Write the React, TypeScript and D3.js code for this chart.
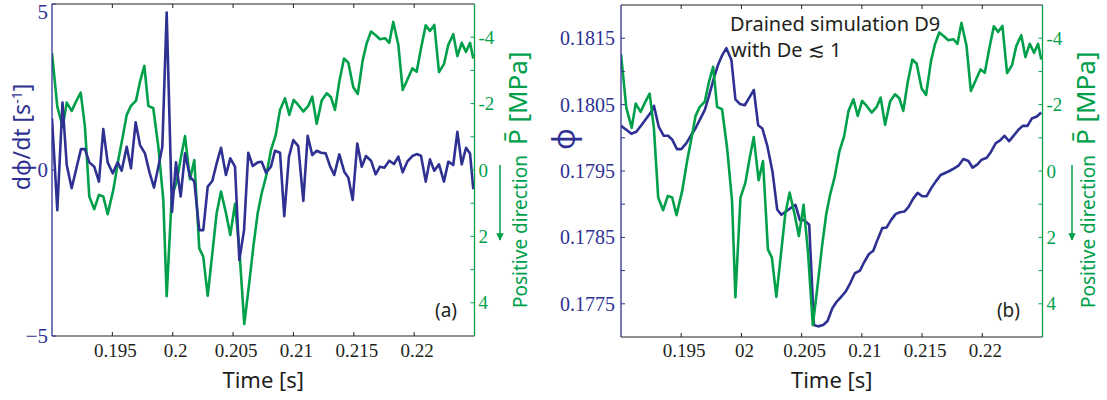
import React from "react";
import * as d3 from "d3";

// ---------- data ----------
const timeP = [0.19, 0.19044, 0.19089, 0.19122, 0.19163, 0.19199, 0.19238, 0.19273, 0.19309, 0.1935, 0.19389, 0.19425, 0.19461, 0.19508, 0.19549, 0.19586, 0.19619, 0.19654, 0.19696, 0.19729, 0.19765, 0.19798, 0.19839, 0.19881, 0.19922, 0.1995, 0.19992, 0.20033, 0.20069, 0.20102, 0.20143, 0.20179, 0.2022, 0.20253, 0.2029, 0.20328, 0.20364, 0.204, 0.20439, 0.20477, 0.20516, 0.20552, 0.20593, 0.20632, 0.20668, 0.20704, 0.20737, 0.20773, 0.20814, 0.20853, 0.20889, 0.2093, 0.20966, 0.21002, 0.2104, 0.21082, 0.21123, 0.21156, 0.21193, 0.21234, 0.21276, 0.21311, 0.21344, 0.2138, 0.21419, 0.21455, 0.21496, 0.21533, 0.21574, 0.21607, 0.21643, 0.21684, 0.21717, 0.21759, 0.21794, 0.21827, 0.21869, 0.21905, 0.21943, 0.21985, 0.22021, 0.22057, 0.22096, 0.22131, 0.22167, 0.22206, 0.22247, 0.22283, 0.22324, 0.22358, 0.22394, 0.2243, 0.22463, 0.2249];
const pressure = [-3.52, -1.91, -1.30, -2.03, -1.78, -2.06, -2.33, -1.30, 0.80, 1.18, 0.75, 0.80, 1.33, 0.60, -0.30, -1.00, -1.66, -1.93, -2.09, -2.66, -3.14, -1.93, -1.86, -0.70, 0.90, 3.80, 0.80, 0.35, -0.40, -1.02, 0.28, -0.30, 2.36, 2.61, 3.79, 2.51, 1.30, 0.65, 1.26, 1.96, 1.02, 2.41, 4.64, 3.46, 2.31, 1.30, 0.70, 0.20, -0.60, -1.05, -1.81, -2.16, -1.66, -2.11, -1.96, -1.76, -1.93, -2.21, -1.39, -2.09, -2.31, -2.19, -1.81, -2.66, -3.36, -3.23, -2.49, -2.29, -3.31, -3.82, -4.17, -4.05, -3.94, -3.97, -3.83, -4.46, -3.77, -2.41, -2.71, -3.06, -2.96, -3.67, -4.36, -4.19, -4.37, -2.95, -3.19, -3.77, -4.09, -3.43, -3.83, -3.56, -3.83, -3.36];

const timeRate = [0.19, 0.19044, 0.19087, 0.19122, 0.19163, 0.19205, 0.1924, 0.19273, 0.19309, 0.1935, 0.19389, 0.19425, 0.19461, 0.19503, 0.19544, 0.19577, 0.19619, 0.19654, 0.19693, 0.19729, 0.1977, 0.19806, 0.19845, 0.19881, 0.19914, 0.1995, 0.19994, 0.20027, 0.20066, 0.20102, 0.20143, 0.20179, 0.2022, 0.20253, 0.2029, 0.20328, 0.20364, 0.204, 0.20441, 0.20477, 0.20516, 0.20552, 0.20591, 0.20626, 0.20663, 0.20704, 0.20737, 0.20773, 0.20814, 0.20847, 0.20889, 0.20924, 0.20963, 0.20999, 0.2104, 0.21082, 0.21118, 0.21156, 0.21193, 0.21228, 0.21267, 0.21303, 0.21338, 0.2138, 0.21421, 0.21455, 0.21491, 0.21529, 0.21566, 0.21601, 0.21643, 0.21681, 0.21717, 0.21753, 0.21794, 0.21833, 0.21869, 0.21905, 0.21943, 0.21985, 0.22021, 0.22057, 0.22096, 0.22131, 0.22167, 0.22206, 0.22247, 0.22283, 0.22324, 0.22358, 0.22394, 0.2243, 0.22463, 0.2249];
const porosityRate = [1.56, -1.21, 2.03, 0.15, -0.55, 0.10, 0.63, 0.63, 0.23, 0.10, -0.35, 1.23, 0.23, -0.10, 0.23, -0.02, 0.70, 0.05, 1.44, 0.75, 0.50, -0.05, -0.53, 0.10, 0.70, 4.74, -1.26, 0.23, -0.80, 0.50, -0.20, -0.35, -1.81, -1.81, -0.50, -0.33, 0.20, 0.67, -0.15, 0.35, 0.10, -2.71, -1.81, 0.52, 0.12, 0.23, 0.25, -0.08, 0.10, 0.58, 0.52, -1.39, 0.40, 0.90, 0.72, -0.93, 1.03, 0.45, 0.58, 0.52, 0.50, 0.12, -0.15, 0.47, -0.05, -0.23, -0.90, 0.80, 0.10, 0.42, 0.28, -0.13, 0.10, 0.07, 0.28, 0.18, 0.40, -0.07, 0.25, 0.42, 0.48, 0.43, -0.35, 0.32, -0.02, 0.17, -0.35, 0.25, 0.15, 1.15, 0.17, 0.67, 0.50, -0.58];

const timePhi = [0.19, 0.19044, 0.19086, 0.19127, 0.19169, 0.1921, 0.19252, 0.19274, 0.19313, 0.19355, 0.19391, 0.19426, 0.19465, 0.19501, 0.19543, 0.19579, 0.19618, 0.19654, 0.19696, 0.19729, 0.19771, 0.19806, 0.19842, 0.19875, 0.19917, 0.1995, 0.19987, 0.20028, 0.20064, 0.20103, 0.20139, 0.20174, 0.20216, 0.20258, 0.20297, 0.20332, 0.20369, 0.20407, 0.20449, 0.20485, 0.20521, 0.20563, 0.20602, 0.20637, 0.20679, 0.20715, 0.20754, 0.2079, 0.20831, 0.20868, 0.20906, 0.20942, 0.20984, 0.2102, 0.21059, 0.21095, 0.21131, 0.2117, 0.21206, 0.21242, 0.2128, 0.21317, 0.21353, 0.21388, 0.21425, 0.21463, 0.21502, 0.21538, 0.21575, 0.21613, 0.21654, 0.21691, 0.21727, 0.21766, 0.21802, 0.21843, 0.21885, 0.2192, 0.2196, 0.21995, 0.22037, 0.22073, 0.22112, 0.22148, 0.22184, 0.22223, 0.22259, 0.223, 0.22336, 0.22375, 0.22411, 0.22453, 0.22489];
const porosity = [0.18018, 0.18012, 0.18006, 0.18009, 0.18019, 0.18029, 0.18039, 0.18048, 0.18017, 0.18003, 0.18003, 0.17997, 0.17983, 0.17983, 0.17992, 0.18003, 0.18014, 0.18027, 0.18042, 0.18062, 0.1809, 0.1811, 0.18125, 0.18135, 0.18117, 0.18058, 0.18051, 0.18049, 0.1806, 0.18072, 0.18019, 0.18014, 0.17987, 0.17949, 0.17892, 0.17884, 0.17889, 0.17894, 0.17899, 0.17876, 0.17876, 0.17869, 0.17718, 0.17716, 0.17718, 0.17724, 0.17743, 0.17753, 0.17761, 0.17769, 0.17782, 0.17796, 0.178, 0.17813, 0.17825, 0.1783, 0.17847, 0.17864, 0.17865, 0.17876, 0.17885, 0.17888, 0.17889, 0.17896, 0.17908, 0.17917, 0.17912, 0.17912, 0.17924, 0.17934, 0.17944, 0.17947, 0.1795, 0.17954, 0.17958, 0.17968, 0.17965, 0.17955, 0.1796, 0.17967, 0.1797, 0.17979, 0.17992, 0.17996, 0.18003, 0.17995, 0.18003, 0.18012, 0.18018, 0.18018, 0.18029, 0.18032, 0.18038];

const timeTicks = [0.195, 0.2, 0.205, 0.21, 0.215, 0.22];
const timeLabelsA = ["0.195", "0.2", "0.205", "0.21", "0.215", "0.22"];
const timeLabelsB = ["0.195", "02", "0.205", "0.21", "0.215", "0.22"];
const rateTicks = [-5, 0, 5];
const rateLabels = ["\u22125", "0", "5"];
const pressureTicks = [-4, -3, -2, -1, 0, 1, 2, 3, 4];
const pressureLabelTicks = [-4, -2, 0, 2, 4];
const pressureLabels = ["-4", "-2", "0", "2", "4"];
const phiTicks = [0.1775, 0.178, 0.1785, 0.179, 0.1795, 0.18, 0.1805, 0.181, 0.1815];
const phiLabelTicks = [0.1775, 0.1785, 0.1795, 0.1805, 0.1815];
const phiLabels = ["0.1775", "0.1785", "0.1795", "0.1805", "0.1815"];

// ---------- style ----------
const BLUE = "#2e3192";
const GREEN = "#00a04a";
const DARK = "#231f20";
const SERIF = "'Liberation Serif', 'DejaVu Serif', serif";
const SANS = "'Noto Sans', 'Open Sans', sans-serif";

type Box = { x0: number; x1: number; y0: number; y1: number };

function zip(a: number[], b: number[]): [number, number][] {
  const n = Math.min(a.length, b.length);
  const out: [number, number][] = [];
  for (let i = 0; i < n; i++) out.push([a[i], b[i]]);
  return out;
}

function PressureAxis({ box, y, arrowX, labelX, id }: { box: Box; y: d3.ScaleLinear<number, number>; arrowX: number; labelX: number; id: string }) {
  return (
    <g>
      <line x1={box.x1} x2={box.x1} y1={box.y0} y2={box.y1} stroke={GREEN} strokeWidth={1.3} />
      {pressureTicks.map((t) => (
        <line key={"pt" + t} x1={box.x1 - 4} x2={box.x1} y1={y(t)} y2={y(t)} stroke={GREEN} strokeWidth={1} />
      ))}
      {pressureLabelTicks.map((t, i) => (
        <text key={"pl" + t} x={box.x1 + 4} y={y(t)} dy="0.35em" fill={GREEN} fontFamily={SERIF} fontSize={19}>
          {pressureLabels[i]}
        </text>
      ))}
      <defs>
        <marker id={id} viewBox="0 0 10 10" refX="9" refY="5" markerWidth="5" markerHeight="5" orient="auto">
          <path d="M0,0 L10,5 L0,10 z" fill={GREEN} />
        </marker>
      </defs>
      <line x1={arrowX} x2={arrowX} y1={165} y2={240} stroke={GREEN} strokeWidth={1.5} markerEnd={`url(#${id})`} />
      <text transform={`translate(${labelX},308) rotate(-90)`} fill={GREEN} fontFamily={SANS}>
        <tspan fontSize={19}>Positive direction</tspan>
        <tspan fontSize={26} dx={10}>P̄ [MPa]</tspan>
      </text>
    </g>
  );
}

function TimeAxis({ box, x, labels }: { box: Box; x: d3.ScaleLinear<number, number>; labels: string[] }) {
  return (
    <g>
      <line x1={box.x0} x2={box.x1} y1={box.y0} y2={box.y0} stroke={DARK} strokeWidth={1.2} />
      <line x1={box.x0} x2={box.x1} y1={box.y1} y2={box.y1} stroke={DARK} strokeWidth={1.2} />
      {timeTicks.map((t) => (
        <g key={"tt" + t}>
          <line x1={x(t)} x2={x(t)} y1={box.y0} y2={box.y0 + 4} stroke={DARK} strokeWidth={1} />
          <line x1={x(t)} x2={x(t)} y1={box.y1} y2={box.y1 - 4} stroke={DARK} strokeWidth={1} />
        </g>
      ))}
      {timeTicks.map((t, i) => (
        <text key={"tl" + t} x={x(t) + 3} y={357} textAnchor="middle" fill={DARK} fontFamily={SERIF} fontSize={19}>
          {labels[i]}
        </text>
      ))}
      <text x={(box.x0 + box.x1) / 2} y={388} textAnchor="middle" fill={DARK} fontFamily={SANS} fontSize={22}>
        Time [s]
      </text>
    </g>
  );
}

export default function App() {
  const boxA: Box = { x0: 52, x1: 474.5, y0: 4, y1: 336 };
  const boxB: Box = { x0: 621, x1: 1042.5, y0: 5, y1: 337 };

  const xA = d3.scaleLinear().domain([0.19, 0.225]).range([boxA.x0, boxA.x1]);
  const xB = d3.scaleLinear().domain([0.19, 0.225]).range([boxB.x0, boxB.x1]);
  const yRate = d3.scaleLinear().domain([-5, 5]).range([boxA.y1, boxA.y0]);
  const yPA = d3.scaleLinear().domain([-5, 5]).range([boxA.y0, boxA.y1]);
  const yPB = d3.scaleLinear().domain([-5, 5]).range([boxB.y0, boxB.y1]);
  const yPhi = d3.scaleLinear().domain([0.177, 0.182]).range([boxB.y1, boxB.y0]);

  const pData = zip(timeP, pressure);
  const rateData = zip(timeRate, porosityRate);
  const phiData = zip(timePhi, porosity);

  const lineA_P = d3.line<[number, number]>().x((d) => xA(d[0])).y((d) => yPA(d[1]));
  const lineA_R = d3.line<[number, number]>().x((d) => xA(d[0])).y((d) => yRate(d[1]));
  const lineB_P = d3.line<[number, number]>().x((d) => xB(d[0])).y((d) => yPB(d[1]));
  const lineB_Phi = d3.line<[number, number]>().x((d) => xB(d[0])).y((d) => yPhi(d[1]));

  return (
    <div style={{ position: "absolute", left: 0, top: 0 }}>
      <svg width={1107} height={400} style={{ display: "block", background: "#fff" }}>
        <defs>
          <clipPath id="clipA">
            <rect x={boxA.x0} y={boxA.y0} width={boxA.x1 - boxA.x0} height={boxA.y1 - boxA.y0} />
          </clipPath>
          <clipPath id="clipB">
            <rect x={boxB.x0} y={boxB.y0} width={boxB.x1 - boxB.x0} height={boxB.y1 - boxB.y0} />
          </clipPath>
        </defs>

        {/* ---------- Panel (a) ---------- */}
        <g clipPath="url(#clipA)">
          <path d={lineA_P(pData) || ""} fill="none" stroke={GREEN} strokeWidth={2.6} strokeLinejoin="round" />
          <path d={lineA_R(rateData) || ""} fill="none" stroke={BLUE} strokeWidth={2.6} strokeLinejoin="round" />
        </g>
        <TimeAxis box={boxA} x={xA} labels={timeLabelsA} />
        <line x1={boxA.x0} x2={boxA.x0} y1={boxA.y0} y2={boxA.y1} stroke={BLUE} strokeWidth={1.3} />
        {rateTicks.map((t, i) => (
          <g key={"r" + t}>
            <line x1={boxA.x0} x2={boxA.x0 + 4} y1={yRate(t)} y2={yRate(t)} stroke={BLUE} strokeWidth={1} />
            <text x={boxA.x0 - 4} y={Math.max(yRate(t), 12)} dy="0.35em" textAnchor="end" fill={BLUE} fontFamily={SERIF} fontSize={21}>
              {rateLabels[i]}
            </text>
          </g>
        ))}
        <text transform="translate(30,137) rotate(-90)" textAnchor="middle" fill={BLUE} fontFamily={SANS} fontSize={23}>
          dϕ/dt [s<tspan fontSize={14} dy={-8}>-1</tspan><tspan dy={8}>]</tspan>
        </text>
        <PressureAxis box={boxA} y={yPA} arrowX={500} labelX={527} id="arrA" />
        <text x={457} y={317} textAnchor="end" fill={DARK} fontFamily={SANS} fontSize={19}>(a)</text>

        {/* ---------- Panel (b) ---------- */}
        <g clipPath="url(#clipB)">
          <path d={lineB_Phi(phiData) || ""} fill="none" stroke={BLUE} strokeWidth={2.6} strokeLinejoin="round" />
          <path d={lineB_P(pData) || ""} fill="none" stroke={GREEN} strokeWidth={2.6} strokeLinejoin="round" />
        </g>
        <TimeAxis box={boxB} x={xB} labels={timeLabelsB} />
        <line x1={boxB.x0} x2={boxB.x0} y1={boxB.y0} y2={boxB.y1} stroke={BLUE} strokeWidth={1.3} />
        {phiTicks.map((t) => (
          <line key={"ph" + t} x1={boxB.x0} x2={boxB.x0 + 4} y1={yPhi(t)} y2={yPhi(t)} stroke={BLUE} strokeWidth={1} />
        ))}
        {phiLabelTicks.map((t, i) => (
          <text key={"phl" + t} x={boxB.x0 - 6} y={yPhi(t)} dy="0.35em" textAnchor="end" fill={BLUE} fontFamily={SERIF} fontSize={20}>
            {phiLabels[i]}
          </text>
        ))}
        <text transform="translate(575,139) rotate(-90)" textAnchor="middle" fill={BLUE} fontFamily={SANS} fontSize={30}>
          ϕ
        </text>
        <PressureAxis box={boxB} y={yPB} arrowX={1072} labelX={1095} id="arrB" />
        <text x={1020} y={317} textAnchor="end" fill={DARK} fontFamily={SANS} fontSize={19}>(b)</text>
        <text x={730} y={31} fill={DARK} fontFamily={SANS} fontSize={20}>Drained simulation D9</text>
        <text x={731} y={57} fill={DARK} fontFamily={SANS} fontSize={20}>with De ≲ 1</text>
      </svg>
    </div>
  );
}
